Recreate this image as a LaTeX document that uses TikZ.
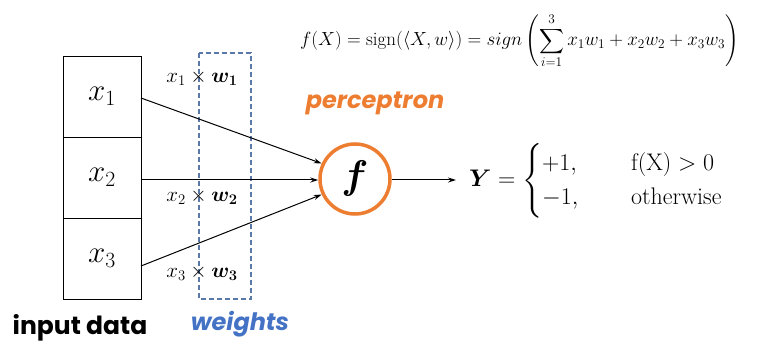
\RequirePackage{fix-cm}
\documentclass[tikz,border=0pt]{standalone}
\usepackage{amsmath,bm}
\usepackage{fontspec}
\newfontfamily\gothic{Poppins}
\usetikzlibrary{arrows.meta}
\definecolor{orng}{HTML}{ED7D31}
\definecolor{wblue}{HTML}{4472C4}
\definecolor{dblue}{HTML}{5A78A8}
\tikzset{
  cell/.style={draw, line width=0.9pt, minimum width=78pt, minimum height=81pt, inner sep=0pt, font=\fontsize{31}{34}\selectfont},
  wlab/.style={font=\fontsize{21}{24}\selectfont, inner sep=0pt},
  conn/.style={line width=1pt, -{Stealth[length=8pt,width=5pt]}},
}
\begin{document}
\begin{tikzpicture}[x=1pt,y=-1pt]
\useasboundingbox (0,0) rectangle (764,350);
% input cells
\node[cell] (c1) at (102,96.5) {$x_1$};
\node[cell] (c2) at (102,177.5) {$x_2$};
\node[cell] (c3) at (102,258.5) {$x_3$};
% weights box
\draw[dblue, line width=1.2pt, dash pattern=on 5pt off 3pt] (199,53) rectangle (251,299);
\node[wlab] (w1) at (202,78) {$x_1\times\bm{w_1}$};
\node[wlab] (w2) at (202,197) {$x_2\times\bm{w_2}$};
\node[wlab] (w3) at (202,273) {$x_3\times\bm{w_3}$};
% perceptron
\node[circle, draw=orng, line width=3.5pt, minimum size=70pt, inner sep=0pt, font=\fontsize{40}{44}\selectfont] (f) at (355,179) {$\bm{f}$};
\node[orng, font=\gothic\bfseries\itshape\fontsize{24}{28}\selectfont] (pt) at (375,103) {perceptron};
\coordinate (a1) at (141,98);
\coordinate (a2) at (141,180);
\coordinate (a3) at (141,266);
\draw[conn] (a1) -- (f.155);
\draw[conn] (a2) -- (f.west |- a2);
\draw[conn] (a3) -- (f.205);
\coordinate (out) at (456,180);
\draw[conn] (f.east |- out) -- (out);
% output
\node[anchor=west, inner sep=0pt, font=\fontsize{24}{28}\selectfont] (y) at (469,181) {$\bm{Y}=\begin{cases}+1, & \hspace{1.2em}\text{f(X)} > 0\\ -1, & \hspace{1.2em}\text{otherwise}\end{cases}$};
% formula
\node[anchor=west, inner sep=0pt, font=\fontsize{19}{22}\selectfont] (fx) at (300,41) {$f(X)=\mathrm{sign}(\langle X,w\rangle)=sign\left(\displaystyle\sum_{i=1}^{3}x_1w_1+x_2w_2+x_3w_3\right)$};
% labels
\node[font=\gothic\bfseries\fontsize{25}{28}\selectfont] (inp) at (80,328) {input data};
\node[wblue, font=\gothic\bfseries\itshape\fontsize{24}{28}\selectfont] (wt) at (240,324) {weights};
\end{tikzpicture}
\end{document}
